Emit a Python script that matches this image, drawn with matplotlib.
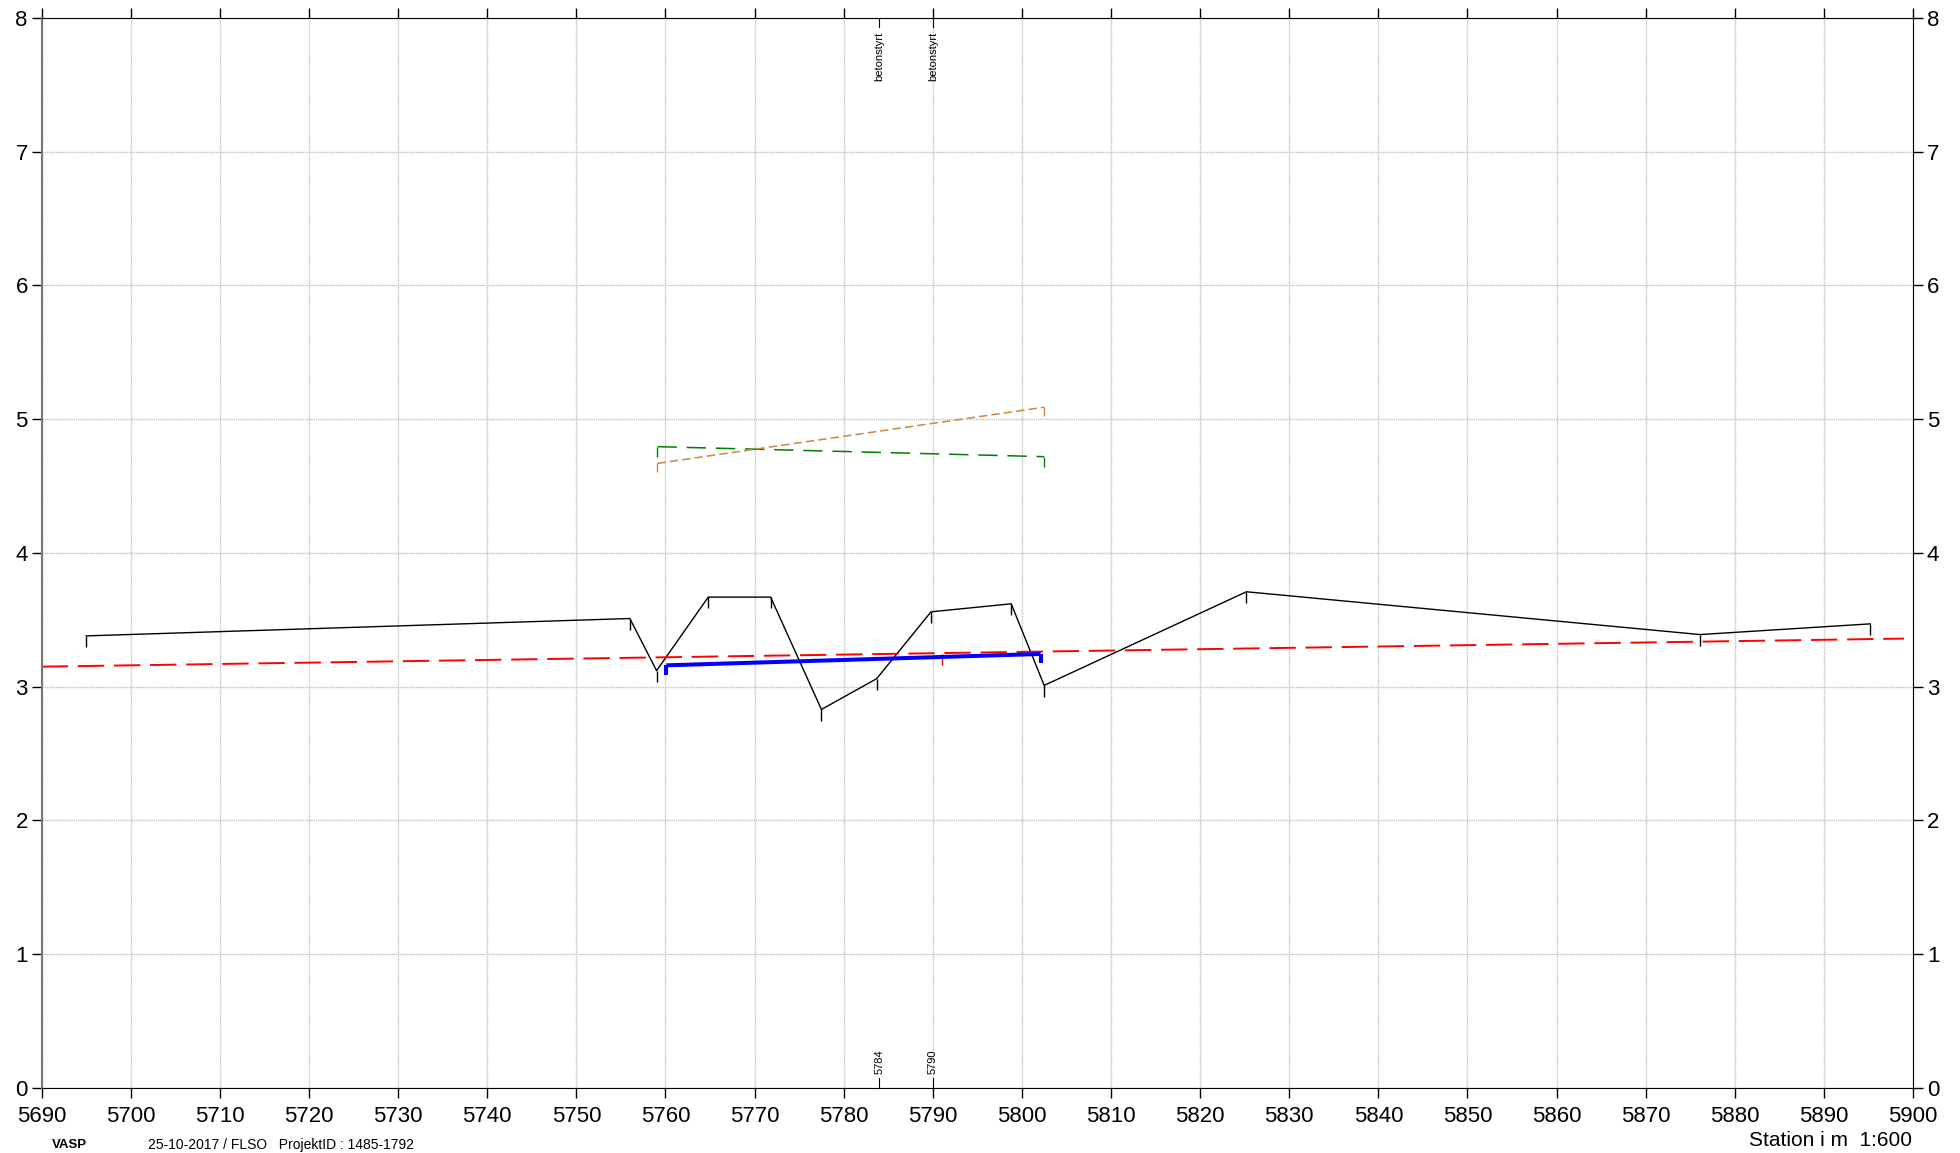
import matplotlib
matplotlib.use("Agg")
import matplotlib.pyplot as plt

plt.rcParams['font.family'] = ['Liberation Sans', 'DejaVu Sans']
plt.rcParams['lines.scale_dashes'] = False

# Terrengprofil (stasjon, kote)
terrain_x = [5695.0, 5756.0, 5759.0, 5764.8, 5771.8, 5777.5, 5783.7, 5789.8, 5798.8, 5802.5, 5825.2, 5876.1, 5895.2]
terrain_y = [3.38, 3.51, 3.12, 3.67, 3.67, 2.83, 3.06, 3.56, 3.62, 3.01, 3.71, 3.39, 3.47]

# Rød stiplet linje (hele strekningen)
red_x = [5690.0, 5899.0]
red_y = [3.15, 3.36]
red_tick_x = [5791.0]
red_tick_y = [3.245]

# Blå ledning
blue_x = [5760.1, 5802.1]
blue_y = [3.16, 3.245]

# Grønn og brun stiplet linje
green_x = [5759.1, 5802.5]
green_y = [4.795, 4.72]
brown_x = [5759.1, 5802.5]
brown_y = [4.67, 5.09]

# Merker over/under plottet
mark_x = [5784, 5790]
mark_top = ['betonstyrt', 'betonstyrt']
mark_bottom = ['5784', '5790']

xticks = list(range(5690, 5901, 10))
yticks = list(range(0, 9))

fig = plt.figure(figsize=(19.6, 11.53), dpi=100)
ax = fig.add_axes([0.0213, 0.0564, 0.9547, 0.928])

ax.set_xlim(5690, 5900)
ax.set_ylim(0, 8)
ax.set_xticks(xticks)
ax.set_yticks(yticks)
ax.grid(True, color='#c4c4c4', linewidth=1.0, dashes=(1, 0.6))
ax.set_axisbelow(True)

# terreng
ax.plot(terrain_x, terrain_y, color='black', linewidth=1.0)
ax.vlines(terrain_x, [y - 0.085 for y in terrain_y], terrain_y, color='black', linewidth=1.0)

# rød linje
ax.plot(red_x, red_y, color='red', linewidth=1.4, dashes=(19, 7))
ax.vlines(red_tick_x, [y - 0.08 for y in red_tick_y], red_tick_y, color='red', linewidth=1.0)

# blå linje med endemerker
ax.plot(blue_x, blue_y, color='blue', linewidth=2.9, solid_capstyle='butt')
ax.vlines(blue_x, [y - 0.07 for y in blue_y], blue_y, color='blue', linewidth=2.9)

# grønn
ax.plot(green_x, green_y, color='green', linewidth=1.1, dashes=(14, 7))
ax.vlines(green_x, [y - 0.08 for y in green_y], green_y, color='green', linewidth=1.0)

# brun
ax.plot(brown_x, brown_y, color='peru', linewidth=1.1, dashes=(6, 3))
ax.vlines(brown_x, [y - 0.065 for y in brown_y], brown_y, color='peru', linewidth=1.0)

# tekst øverst og nederst
trans = ax.get_xaxis_transform()
for x, top, bot in zip(mark_x, mark_top, mark_bottom):
    ax.plot([x, x], [1.0, 0.992], color='black', linewidth=0.8, transform=trans, clip_on=False)
    ax.text(x, 0.987, top, rotation=90, ha='center', va='top', fontsize=8, transform=trans)
    ax.plot([x, x], [0.0, 0.009], color='black', linewidth=0.8, transform=trans, clip_on=False)
    ax.text(x, 0.013, bot, rotation=90, ha='center', va='bottom', fontsize=8, transform=trans)

ax.tick_params(axis='x', which='both', direction='out', length=7, width=1,
               labelsize=16, top=True, labeltop=False, pad=6)
ax.tick_params(axis='y', which='both', direction='out', length=7, width=1,
               labelsize=16, right=True, labelright=True, pad=3)
for side in ['top', 'bottom', 'right']:
    ax.spines[side].set_color('black')
ax.spines['left'].set_color('#777777')
ax.spines['left'].set_linewidth(1.5)

fig.text(52 / 1960, 1 - 1145 / 1153, 'VASP', fontsize=9.5, fontweight='bold', va='center')
fig.text(148 / 1960, 1 - 1145 / 1153, '25-10-2017 / FLSO   ProjektID : 1485-1792', fontsize=10, va='center')
fig.text(1912 / 1960, 1 - 1140 / 1153, 'Station i m  1:600', fontsize=15, ha='right', va='center')

fig.savefig('out.png', dpi=100)
